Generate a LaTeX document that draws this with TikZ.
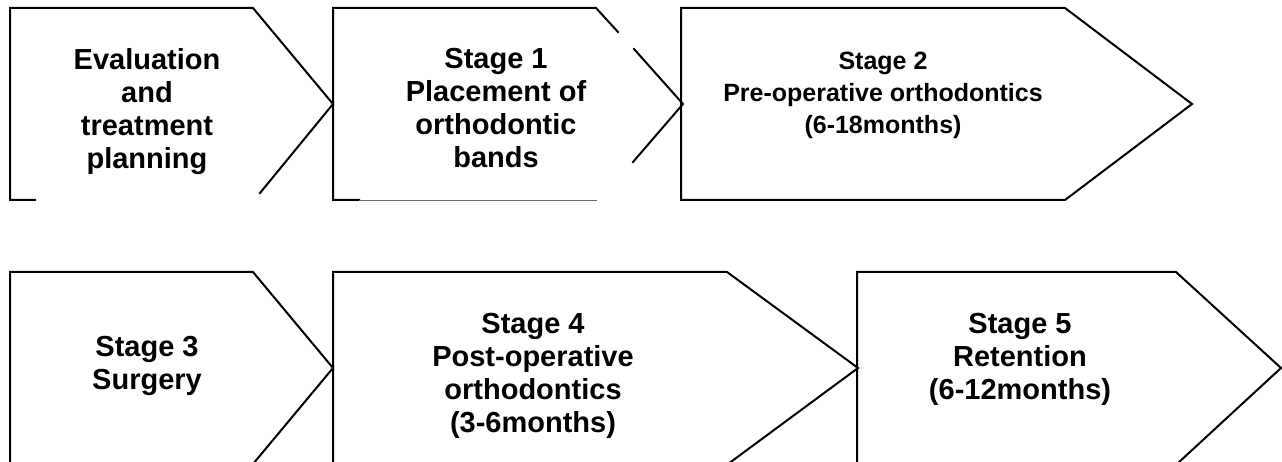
\documentclass[tikz,border=0pt]{standalone}
\usepackage{fontspec}
\setmainfont{Liberation Sans}
\begin{document}
\begin{tikzpicture}[x=1pt,y=-1pt,
  edge/.style={draw=black,line width=2pt,line join=miter,line cap=rect},
  thinedge/.style={draw=black!60,line width=1pt},
  label/.style={align=center,inner sep=0pt,font=\bfseries\fontsize{29}{33}\selectfont},
  smalllabel/.style={label,font=\bfseries\fontsize{25}{32}\selectfont}]
\useasboundingbox[fill=white] (0,0) rectangle (1282,462);
% Shape 1
\draw[edge] (35,200) -- (10,200) -- (10,8) -- (253,8) -- (333,104) -- (260,193);
% Shape 2
\draw[edge] (359,200) -- (333,200) -- (333,8) -- (596,8) -- (618,32);
\draw[edge] (634,49) -- (683,104) -- (633,162);
\draw[thinedge] (359,201) -- (597,201);
% Shape 3
\draw[edge] (681,200) -- (681,8) -- (1065,8) -- (1192,104) -- (1065,200) -- cycle;
% Shape 4
\draw[edge] (10,470) -- (10,272) -- (253,272) -- (333,368) -- (253,464);
% Shape 5
\draw[edge] (333,470) -- (333,272) -- (727,272) -- (858,368) -- (730,462.5);
% Shape 6
\draw[edge] (857,470) -- (857,272) -- (1176,272) -- (1281,368) -- (1178,463);
% Labels
\node[label] (t1) at (147,112) {Evaluation\\and\\treatment\\planning};
\node[label] (t2) at (496,108) {Stage 1\\Placement of\\orthodontic\\bands};
\node[smalllabel] (t3) at (883,95) {Stage 2\\Pre-operative orthodontics\\(6-18months)};
\node[label] (t4) at (147,366) {Stage 3\\Surgery};
\node[label] (t5) at (533,376) {Stage 4\\Post-operative\\orthodontics\\(3-6months)};
\node[label] (t6) at (1020,359) {Stage 5\\Retention\\(6-12months)};
\end{tikzpicture}
\end{document}
